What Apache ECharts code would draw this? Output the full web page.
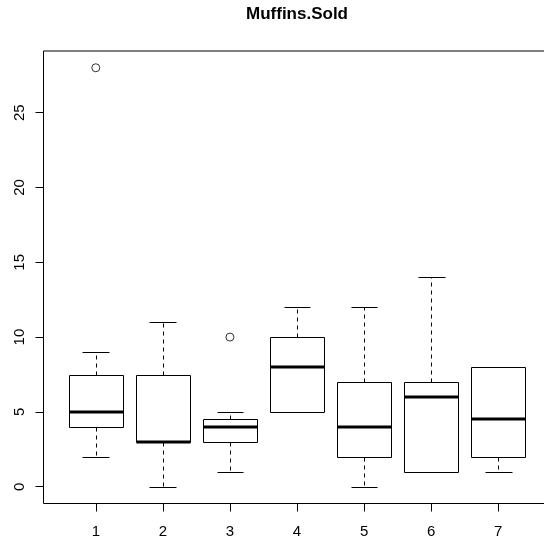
<!DOCTYPE html>
<html>
<head>
<meta charset="utf-8">
<script src="https://cdn.jsdelivr.net/npm/echarts@6/dist/echarts.min.js"></script>
<style>
html,body{margin:0;padding:0;background:#fff;overflow:hidden;}
#chart{width:570px;height:539px;}
</style>
</head>
<body>
<div id="chart"></div>
<script>
const categories = [1, 2, 3, 4, 5, 6, 7];
const mins    = [2, 0, 1, 5, 0, 1, 1];
const q1s     = [4, 3, 3, 5, 2, 1, 2];
const medians = [5, 3, 4, 8, 4, 6, 4.5];
const q3s     = [7.5, 7.5, 4.5, 10, 7, 7, 8];
const maxs    = [9, 11, 5, 12, 12, 14, 8];
const outlierCats = [1, 3];
const outlierVals = [28, 10];
const yTicks = [0, 5, 10, 15, 20, 25];
const title = 'Muffins.Sold';

const boxData = categories.map((c, i) => [c, mins[i], q1s[i], medians[i], q3s[i], maxs[i]]);
const outlierData = outlierCats.map((c, i) => [c, outlierVals[i]]);

const FONT = 'Liberation Sans, Arial, Helvetica, sans-serif';
const px = v => Math.round(v) + 0.5;

function renderBox(params, api) {
  const x = api.value(0);
  const mn = api.value(1), q1 = api.value(2), md = api.value(3), q3 = api.value(4), mx = api.value(5);
  const half = 0.4, capHalf = 0.2;
  const tl = api.coord([x - half, q3]);
  const br = api.coord([x + half, q1]);
  const c = api.coord([x, md]);
  const cx = px(c[0]);
  const yMin = px(api.coord([x, mn])[1]);
  const yMax = px(api.coord([x, mx])[1]);
  const yQ1 = px(br[1]);
  const yQ3 = px(tl[1]);
  const xl = px(tl[0]), xr = px(br[0]);
  const capL = px(api.coord([x - capHalf, mn])[0]);
  const capR = px(api.coord([x + capHalf, mn])[0]);
  const solid = {stroke: '#000', lineWidth: 1, fill: null};
  const dashed = {stroke: '#000', lineWidth: 1, lineDash: [4, 4], fill: null};
  const children = [];
  if (q3 < mx) children.push({type: 'line', shape: {x1: cx, y1: yQ3, x2: cx, y2: yMax}, style: dashed});
  if (q1 > mn) children.push({type: 'line', shape: {x1: cx, y1: yQ1, x2: cx, y2: yMin}, style: dashed});
  children.push({type: 'line', shape: {x1: capL, y1: yMax, x2: capR, y2: yMax}, style: solid});
  children.push({type: 'line', shape: {x1: capL, y1: yMin, x2: capR, y2: yMin}, style: solid});
  children.push({type: 'rect', shape: {x: xl, y: yQ3, width: xr - xl, height: yQ1 - yQ3}, style: {stroke: '#000', lineWidth: 1, fill: 'rgba(0,0,0,0)'}});
  children.push({type: 'line', shape: {x1: xl, y1: Math.round(c[1]), x2: xr, y2: Math.round(c[1])}, style: {stroke: '#000', lineWidth: 3}});
  return {type: 'group', children};
}

const chart = echarts.init(document.getElementById('chart'), null, {renderer: 'canvas'});
chart.setOption({
  animation: false,
  backgroundColor: '#fff',
  title: {
    text: title,
    left: 297,
    top: 6,
    padding: 0,
    textAlign: 'center',
    textStyle: {fontFamily: FONT, fontWeight: 'bold', fontSize: 17, color: '#000'}
  },
  grid: {
    left: 43.5, top: 51, width: 507, height: 453,
    show: true, borderColor: '#000', borderWidth: 1, backgroundColor: 'transparent',
    containLabel: false
  },
  xAxis: {
    type: 'value', min: 0.22, max: 7.78,
    splitLine: {show: false},
    axisLine: {show: false, onZero: false},
    axisTick: {show: true, length: 8, customValues: categories, lineStyle: {color: '#000'}},
    axisLabel: {show: true, customValues: categories, margin: 20.5, fontSize: 15, fontFamily: FONT, color: '#000'}
  },
  yAxis: {
    type: 'value', min: -1.12, max: 29.12,
    splitLine: {show: false},
    axisLine: {show: false, onZero: false},
    axisTick: {show: true, length: 8, customValues: yTicks, lineStyle: {color: '#000'}},
    axisLabel: {show: true, customValues: yTicks, rotate: 90, margin: 16.5, fontSize: 15, fontFamily: FONT, color: '#000'}
  },
  series: [
    {
      type: 'custom',
      renderItem: renderBox,
      encode: {x: 0, y: [1, 2, 3, 4, 5]},
      data: boxData,
      z: 2
    },
    {
      type: 'scatter',
      data: outlierData,
      symbol: 'circle',
      symbolSize: 8,
      itemStyle: {color: '#fff', borderColor: '#000', borderWidth: 1},
      z: 3
    }
  ]
});
</script>
</body>
</html>
